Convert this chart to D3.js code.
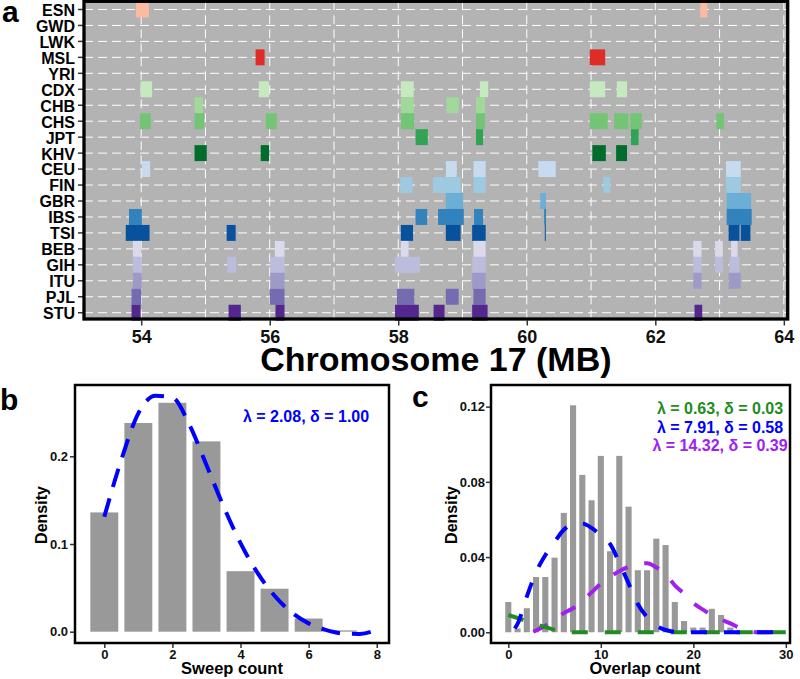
<!DOCTYPE html>
<html>
<head>
<meta charset="utf-8">
<script src="https://cdn.jsdelivr.net/npm/d3@7"></script>
<style>
  body { margin: 0; background: #fff; }
  svg text { font-family: "Liberation Sans", Arial, sans-serif; font-weight: bold; }
</style>
</head>
<body>
<svg id="fig" width="800" height="679"></svg>
<script>
// ---------------- data ----------------

// Panel a: populations (top to bottom) and their fill colours
const populations = ["ESN", "GWD", "LWK", "MSL", "YRI",
  "CDX", "CHB", "CHS", "JPT", "KHV",
  "CEU", "FIN", "GBR", "IBS", "TSI",
  "BEB", "GIH", "ITU", "PJL", "STU"];
const popColors = ["#fcbba1", "#fc9272", "#fb6a4a", "#de2d26", "#a50f15",
  "#c7e9c0", "#a1d99b", "#74c476", "#31a354", "#006d2c",
  "#c6dbef", "#9ecae1", "#6baed6", "#3182bd", "#08519c",
  "#dadaeb", "#bcbddc", "#9e9ac8", "#756bb1", "#54278f"];

// Sweep regions: [population, start MB, end MB]
const sweepBlocks = [
  ["ESN", 53.92, 54.12], ["ESN", 62.70, 62.81],
  ["MSL", 55.78, 55.92], ["MSL", 60.98, 61.22],
  ["CDX", 53.99, 54.17], ["CDX", 55.83, 55.99], ["CDX", 58.04, 58.24], ["CDX", 59.27, 59.40],
  ["CDX", 60.98, 61.22], ["CDX", 61.40, 61.56],
  ["CHB", 54.83, 54.96], ["CHB", 58.04, 58.24], ["CHB", 58.75, 58.94], ["CHB", 59.21, 59.35],
  ["CHS", 53.98, 54.15], ["CHS", 54.83, 54.98], ["CHS", 55.94, 56.11], ["CHS", 58.04, 58.25],
  ["CHS", 59.21, 59.35], ["CHS", 60.98, 61.26], ["CHS", 61.36, 61.58], ["CHS", 61.61, 61.79],
  ["CHS", 62.95, 63.07],
  ["JPT", 58.27, 58.46], ["JPT", 59.21, 59.32], ["JPT", 61.62, 61.74],
  ["KHV", 54.83, 55.02], ["KHV", 55.86, 55.99], ["KHV", 61.02, 61.23], ["KHV", 61.39, 61.56],
  ["CEU", 54.01, 54.14], ["CEU", 58.74, 58.91], ["CEU", 59.17, 59.36], ["CEU", 60.18, 60.45],
  ["CEU", 63.10, 63.33],
  ["FIN", 58.03, 58.22], ["FIN", 58.54, 58.97], ["FIN", 59.17, 59.36], ["FIN", 61.19, 61.30],
  ["FIN", 63.10, 63.33],
  ["GBR", 58.74, 59.01], ["GBR", 60.21, 60.30], ["GBR", 63.11, 63.49],
  ["IBS", 53.81, 54.01], ["IBS", 58.27, 58.45], ["IBS", 58.62, 59.02], ["IBS", 59.18, 59.32],
  ["IBS", 60.27, 60.30], ["IBS", 63.11, 63.50],
  ["TSI", 53.76, 54.13], ["TSI", 55.33, 55.47], ["TSI", 58.04, 58.23], ["TSI", 58.74, 58.97],
  ["TSI", 59.15, 59.36], ["TSI", 60.28, 60.295], ["TSI", 63.14, 63.31], ["TSI", 63.33, 63.48],
  ["BEB", 53.87, 54.00], ["BEB", 56.08, 56.23], ["BEB", 58.04, 58.16], ["BEB", 59.17, 59.36],
  ["BEB", 62.59, 62.72], ["BEB", 62.93, 63.05], ["BEB", 63.18, 63.28],
  ["GIH", 53.87, 54.01], ["GIH", 55.34, 55.48], ["GIH", 56.01, 56.23], ["GIH", 57.95, 58.34],
  ["GIH", 59.15, 59.36], ["GIH", 62.59, 62.72], ["GIH", 62.93, 63.05], ["GIH", 63.15, 63.31],
  ["ITU", 53.87, 54.01], ["ITU", 56.01, 56.23], ["ITU", 59.15, 59.36], ["ITU", 62.59, 62.72],
  ["ITU", 63.14, 63.33],
  ["PJL", 53.85, 54.00], ["PJL", 56.00, 56.23], ["PJL", 57.98, 58.25], ["PJL", 58.74, 58.94],
  ["PJL", 59.17, 59.36],
  ["STU", 53.85, 53.99], ["STU", 55.36, 55.55], ["STU", 56.09, 56.23], ["STU", 57.95, 58.32],
  ["STU", 58.55, 58.72], ["STU", 59.15, 59.39], ["STU", 62.61, 62.73]
];
const chrTicks = [54, 56, 58, 60, 62, 64];

// Panel b: sweep count histogram and fitted curve
const sweepCounts = [0, 1, 2, 3, 4, 5, 6, 7];
const sweepDensity = [0.136, 0.238, 0.261, 0.217, 0.069, 0.049, 0.015, 0.0015];
const sweepFitX = [0, 0.5, 1, 1.5, 2, 2.5, 3, 3.5, 4, 4.5, 5, 5.5, 6, 6.5, 7, 7.5, 8];
const sweepFitY = [0.131, 0.196, 0.249, 0.269, 0.267, 0.236, 0.190, 0.143, 0.101,
  0.067, 0.041, 0.022, 0.0095, 0.002, -0.002, -0.0025, 0.002];
const sweepTicksX = [0, 2, 4, 6, 8];
const sweepTicksY = [0, 0.1, 0.2];

// Panel c: overlap count histogram and three fitted components
const overlapCounts = d3.range(0, 25);
const overlapDensity = [0.0161, 0.002, 0.0128, 0.0294, 0.0294, 0.0397, 0.0635, 0.1207,
  0.0837, 0.0702, 0.0938, 0.0431, 0.0938, 0.0668, 0.0330, 0.0330, 0.0498, 0.0464,
  0.0161, 0.0060, 0.0025, 0.0025, 0.0125, 0.0092, 0.0025];
const greenFitX = [0, 1, 2, 3, 4, 5, 6, 7, 10, 15, 20, 25, 30];
const greenFitY = [0.0092, 0.0076, 0.0058, 0.0042, 0.0028, 0.0013, 0.0004, 0, 0, 0, 0, 0, 0];
const blueFitX = [0.7, 1, 2, 3, 4, 5, 6, 7, 8, 9, 10, 11, 12, 13, 14, 15, 16, 17, 18,
  20, 22, 24, 26, 28, 29, 30];
const blueFitY = [0.002, 0.0045, 0.019, 0.032, 0.041, 0.048, 0.0545, 0.0575, 0.0578,
  0.0555, 0.0515, 0.047, 0.037, 0.026, 0.015, 0.008, 0.0035, 0.0012, 0.0003,
  0, 0, 0, 0, 0, 0.0005, 0.0025];
const purpleFitX = [2.7, 4, 5, 6, 7, 8, 9, 10, 11, 12, 13, 14, 15, 16, 17, 18, 19, 20,
  21, 22, 23, 24, 25, 26, 27, 30];
const purpleFitY = [0.0003, 0.0035, 0.0065, 0.0102, 0.0128, 0.0165, 0.0212, 0.0258,
  0.0295, 0.0325, 0.0348, 0.0362, 0.0367, 0.0345, 0.031, 0.025, 0.0205, 0.0155,
  0.0122, 0.0092, 0.0068, 0.0047, 0.0024, 0.0007, 0, 0];
const overlapTicksX = [0, 10, 20, 30];
const overlapTicksY = [0, 0.04, 0.08, 0.12];

// ---------------- drawing ----------------
const svg = d3.select("#fig");

// Style an axis group: bold labels, dark ticks, no domain line
function styleAxis(g, size) {
  g.attr("font-size", size).attr("font-family", null);
  g.select(".domain").remove();
  g.selectAll(".tick line").attr("stroke", "#333").attr("stroke-width", 1.5);
  g.selectAll(".tick text")
    .attr("fill", "#111")
    .style("font-size", size + "px")
    .style("font-weight", "bold");
}

/* ---- Panel a: sweep map ---- */
const aBox = { left: 84, right: 787.7, top: 1.3, bottom: 319 };
const xA = d3.scaleLinear().domain([53.11, 64.06]).range([aBox.left, aBox.right]);
const yA = d3.scaleBand().domain(populations).range([1.5, 320.7]);
const colorA = d3.scaleOrdinal().domain(populations).range(popColors);

const pa = svg.append("g");

// Grey panel background
pa.append("rect")
  .attr("x", aBox.left).attr("y", aBox.top)
  .attr("width", aBox.right - aBox.left).attr("height", aBox.bottom - aBox.top)
  .attr("fill", "#b3b3b3");

// White dashed grid, one line per MB and per population
pa.selectAll(".vgrid")
  .data(xA.ticks(11))
  .enter()
  .append("line")
  .attr("x1", d => xA(d)).attr("x2", d => xA(d))
  .attr("y1", aBox.top).attr("y2", aBox.bottom)
  .attr("stroke", "#fff").attr("stroke-width", 1)
  .attr("stroke-dasharray", "9,5");

pa.selectAll(".hgrid")
  .data(populations)
  .enter()
  .append("line")
  .attr("x1", aBox.left).attr("x2", aBox.right)
  .attr("y1", d => yA(d) + yA.bandwidth() / 2)
  .attr("y2", d => yA(d) + yA.bandwidth() / 2)
  .attr("stroke", "#fff").attr("stroke-width", 1)
  .attr("stroke-dasharray", "9,5");

// Sweep tiles
pa.selectAll(".tile")
  .data(sweepBlocks)
  .enter()
  .append("rect")
  .attr("x", d => xA(d[1]))
  .attr("width", d => Math.max(1, xA(d[2]) - xA(d[1])))
  .attr("y", d => yA(d[0]))
  .attr("height", yA.bandwidth())
  .attr("fill", d => colorA(d[0]));

// Axes
const axAy = pa.append("g")
  .attr("transform", `translate(${aBox.left},0)`)
  .call(d3.axisLeft(yA).tickSize(6).tickPadding(3));
styleAxis(axAy, 16);
axAy.selectAll(".tick text").attr("dy", "0.4em").attr("fill", "#000");

const axAx = pa.append("g")
  .attr("transform", `translate(0,${aBox.bottom + 1.5})`)
  .call(d3.axisBottom(xA).tickValues(chrTicks).tickSize(5).tickPadding(5));
styleAxis(axAx, 18);

pa.append("text")
  .attr("x", (aBox.left + aBox.right) / 2).attr("y", 371)
  .attr("text-anchor", "middle")
  .style("font-size", "34px")
  .text("Chromosome 17 (MB)");

// Panel border
pa.append("rect")
  .attr("x", aBox.left).attr("y", aBox.top)
  .attr("width", aBox.right - aBox.left).attr("height", aBox.bottom - aBox.top)
  .attr("fill", "none").attr("stroke", "#000").attr("stroke-width", 3.3);

pa.append("text").attr("x", 2).attr("y", 22).style("font-size", "30px").text("a");

/* ---- Panel b: sweep count ---- */
const bBox = { left: 75, right: 389, top: 385, bottom: 643 };
const xB = d3.scaleLinear().domain([-0.86, 8.36]).range([bBox.left, bBox.right]);
const yB = d3.scaleLinear().domain([-0.0129, 0.2813]).range([bBox.bottom, bBox.top]);
const pb = svg.append("g");

pb.selectAll(".bar")
  .data(sweepCounts)
  .enter()
  .append("rect")
  .attr("x", (d, i) => xB(d - 0.41))
  .attr("width", xB(0.82) - xB(0))
  .attr("y", (d, i) => yB(sweepDensity[i]))
  .attr("height", (d, i) => Math.max(0.8, yB(0) - yB(sweepDensity[i])))
  .attr("fill", "#999999");

pb.append("path")
  .datum(sweepFitX.map((x, i) => [x, sweepFitY[i]]))
  .attr("fill", "none")
  .attr("stroke", "#0000ff").attr("stroke-width", 4)
  .attr("stroke-dasharray", "19,12")
  .attr("d", d3.line().x(d => xB(d[0])).y(d => yB(d[1])).curve(d3.curveMonotoneX));

pb.append("text")
  .attr("x", 306).attr("y", 421.5)
  .attr("text-anchor", "middle")
  .attr("fill", "#0000ff")
  .style("font-size", "16px")
  .text("λ = 2.08, δ = 1.00");

const axBy = pb.append("g")
  .attr("transform", `translate(${bBox.left},0)`)
  .call(d3.axisLeft(yB).tickValues(sweepTicksY).tickFormat(d3.format(".1f")).tickSize(5).tickPadding(2));
styleAxis(axBy, 13);

const axBx = pb.append("g")
  .attr("transform", `translate(0,${bBox.bottom})`)
  .call(d3.axisBottom(xB).tickValues(sweepTicksX).tickSize(5).tickPadding(2));
styleAxis(axBx, 13);

pb.append("text")
  .attr("x", 232).attr("y", 674)
  .attr("text-anchor", "middle")
  .style("font-size", "16.5px")
  .text("Sweep count");

pb.append("text")
  .attr("transform", "translate(47,515) rotate(-90)")
  .attr("text-anchor", "middle")
  .style("font-size", "16px")
  .text("Density");

pb.append("rect")
  .attr("x", bBox.left).attr("y", bBox.top)
  .attr("width", bBox.right - bBox.left).attr("height", bBox.bottom - bBox.top)
  .attr("fill", "none").attr("stroke", "#000").attr("stroke-width", 2.5);

pb.append("text").attr("x", 0).attr("y", 410).style("font-size", "30px").text("b");

/* ---- Panel c: overlap count ---- */
const cBox = { left: 491, right: 790, top: 385, bottom: 643 };
const xC = d3.scaleLinear().domain([-1.87, 30.45]).range([cBox.left, cBox.right]);
const yC = d3.scaleLinear().domain([-0.0057, 0.1315]).range([cBox.bottom, cBox.top]);
const pc = svg.append("g");

pc.append("clipPath").attr("id", "clipC")
  .append("rect")
  .attr("x", cBox.left).attr("y", cBox.top)
  .attr("width", cBox.right - cBox.left).attr("height", cBox.bottom - cBox.top);

pc.selectAll(".bar")
  .data(overlapCounts)
  .enter()
  .append("rect")
  .attr("x", d => xC(d - 0.33))
  .attr("width", xC(0.66) - xC(0))
  .attr("y", (d, i) => yC(overlapDensity[i]))
  .attr("height", (d, i) => yC(0) - yC(overlapDensity[i]))
  .attr("fill", "#999999");

// Fitted components, drawn back to front
const lineC = d3.line().x(d => xC(d[0])).y(d => yC(d[1])).curve(d3.curveMonotoneX);
const fits = [
  { xs: purpleFitX, ys: purpleFitY, color: "#a020f0" },
  { xs: greenFitX, ys: greenFitY, color: "#228b22" },
  { xs: blueFitX, ys: blueFitY, color: "#0000ff" }
];
pc.selectAll(".fit")
  .data(fits)
  .enter()
  .append("path")
  .attr("clip-path", "url(#clipC)")
  .attr("fill", "none")
  .attr("stroke", d => d.color).attr("stroke-width", 4)
  .attr("stroke-dasharray", "16,17")
  .attr("d", d => lineC(d.xs.map((x, i) => [x, d.ys[i]])));

const labelsC = [
  { text: "λ = 0.63, δ = 0.03", color: "#228b22" },
  { text: "λ = 7.91, δ = 0.58", color: "#0000ff" },
  { text: "λ = 14.32, δ = 0.39", color: "#a020f0" }
];
pc.selectAll(".fitlabel")
  .data(labelsC)
  .enter()
  .append("text")
  .attr("x", 720)
  .attr("y", (d, i) => 414 + i * 18.5)
  .attr("text-anchor", "middle")
  .attr("fill", d => d.color)
  .style("font-size", "16px")
  .text(d => d.text);

const axCy = pc.append("g")
  .attr("transform", `translate(${cBox.left},0)`)
  .call(d3.axisLeft(yC).tickValues(overlapTicksY).tickFormat(d3.format(".2f")).tickSize(5).tickPadding(1));
styleAxis(axCy, 13);

const axCx = pc.append("g")
  .attr("transform", `translate(0,${cBox.bottom})`)
  .call(d3.axisBottom(xC).tickValues(overlapTicksX).tickSize(5).tickPadding(2));
styleAxis(axCx, 13);

pc.append("text")
  .attr("x", 645).attr("y", 674)
  .attr("text-anchor", "middle")
  .style("font-size", "16.5px")
  .text("Overlap count");

pc.append("text")
  .attr("transform", "translate(457,515) rotate(-90)")
  .attr("text-anchor", "middle")
  .style("font-size", "16px")
  .text("Density");

pc.append("rect")
  .attr("x", cBox.left).attr("y", cBox.top)
  .attr("width", cBox.right - cBox.left).attr("height", cBox.bottom - cBox.top)
  .attr("fill", "none").attr("stroke", "#000").attr("stroke-width", 2.5);

pc.append("text").attr("x", 412).attr("y", 407).style("font-size", "30px").text("c");
</script>
</body>
</html>
